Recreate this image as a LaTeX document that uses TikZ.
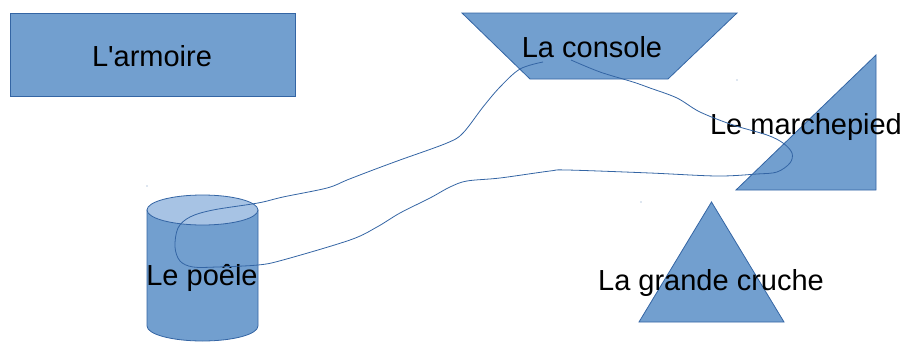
\documentclass[tikz,border=0pt]{standalone}
\usepackage{fontspec}
\setmainfont{Liberation Sans}[Ligatures=TeXOff]
\definecolor{shapefill}{HTML}{729FCF}
\definecolor{shapeline}{HTML}{3465A4}
\definecolor{toplight}{HTML}{A7C3E4}
\tikzset{
  shapebox/.style={fill=shapefill, draw=shapeline, line width=0.8pt, line join=miter},
  lbl/.style={font=\fontsize{29}{34}\selectfont, text=black, anchor=base, inner sep=0pt},
  wire/.style={draw=shapeline, line width=0.8pt},
  speck/.style={fill=shapeline!70, draw=none}
}
\begin{document}
\begin{tikzpicture}[x=1pt,y=-1pt]
\useasboundingbox (0,0) rectangle (906,343);
% armoire
\path[shapebox] (10,13) rectangle (295,96);
% console
\path[shapebox] (462,13) -- (737,13) -- (668,79) -- (530,79) -- cycle;
% marchepied
\path[shapebox] (876,55) -- (876,190) -- (736,190) -- cycle;
% grande cruche
\path[shapebox] (711.5,202) -- (784,322) -- (639,322) -- cycle;
% poele cylinder
\path[shapebox] (147,210) -- (147,326) .. controls (147,334.3) and (171.9,341) .. (202.5,341)
   .. controls (233.1,341) and (258,334.3) .. (258,326) -- (258,210) -- cycle;
\path[shapebox, fill=toplight] (202.5,210) ellipse [x radius=55.5pt, y radius=15pt];
% labels
\node[lbl] (armoire) at (152,66) {L'armoire};
\node[lbl] (console) at (592,57) {La console};
\node[lbl] (marchepied) at (806,134) {Le marchepied};
\node[lbl] (cruche) at (711,290) {La grande cruche};
\node[lbl] (poele) at (202,285) {Le poêle};
% freehand line
\draw[wire] plot[smooth, tension=0.55] coordinates {
 (543,62) (520,69) (500,87) (483,107) (463,133) (447,143) (400,160) (373,170)
 (347,180) (327,188) (283,197) (258,203) (213,210) (190,217) (178,228) (175,247)
 (180,261) (193,267) (217,267) (258,265) (283,260) (350,240) (377,227) (400,213)
 (430,198) (450,187) (467,181) (500,178) (550,171) (567,170) (650,173) (717,176)
 (757,174) (777,172) (790,163) (792,153) (783,143) (767,135) (733,125) (700,112)
 (677,98) (650,88) (633,82) (600,72) (571,60)};
% specks
\path[speck] (147,186) circle (0.7);
\path[speck] (737,80) circle (0.7);
\path[speck] (641,202) circle (0.7);
\end{tikzpicture}
\end{document}
